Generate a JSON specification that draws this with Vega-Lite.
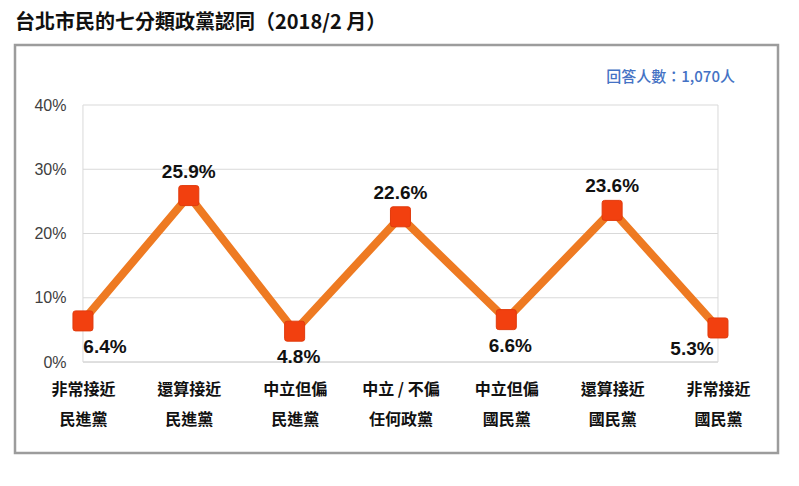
{
  "$schema": "https://vega.github.io/schema/vega-lite/v6.json",
  "width": 763,
  "height": 408,
  "autosize": {"type": "none"},
  "padding": {"left": 15, "top": 45, "right": 21, "bottom": 33},
  "background": "white",
  "title": {
    "text": "台北市民的七分類政黨認同（2018/2 月）",
    "anchor": "start",
    "frame": "group",
    "font": "Noto Sans CJK TC",
    "fontSize": 20,
    "fontWeight": "bold",
    "color": "#111111",
    "offset": 12
  },
  "config": {
    "view": {"stroke": "#9c9c9c", "strokeWidth": 2.5}
  },
  "datasets": {
    "main": [
      {"cat": "非常接近|民進黨", "pct": 0.064},
      {"cat": "還算接近|民進黨", "pct": 0.259},
      {"cat": "中立但偏|民進黨", "pct": 0.048},
      {"cat": "中立 / 不偏|任何政黨", "pct": 0.226},
      {"cat": "中立但偏|國民黨", "pct": 0.066},
      {"cat": "還算接近|國民黨", "pct": 0.236},
      {"cat": "非常接近|國民黨", "pct": 0.053}
    ],
    "grid": [{"v": 0}, {"v": 0.1}, {"v": 0.2}, {"v": 0.3}, {"v": 0.4}],
    "note": [{"t": "回答人數：1,070人"}]
  },
  "layer": [
    {
      "data": {"name": "grid"},
      "mark": {"type": "rule", "strokeWidth": 1},
      "encoding": {
        "x": {"datum": "非常接近|民進黨", "type": "ordinal", "scale": {"type": "point", "domain": ["非常接近|民進黨", "還算接近|民進黨", "中立但偏|民進黨", "中立 / 不偏|任何政黨", "中立但偏|國民黨", "還算接近|國民黨", "非常接近|國民黨"], "padding": 0.6047, "align": 0.531}},
        "x2": {"datum": "非常接近|國民黨"},
        "y": {"field": "v", "type": "quantitative", "scale": {"domain": [-0.1416, 0.4934], "nice": false, "zero": false}},
        "color": {"condition": {"test": "datum.v === 0", "value": "#bfbfbf"}, "value": "#d9d9d9"}
      }
    },
    {
      "data": {"name": "main"},
      "transform": [{"filter": "datum.cat === '非常接近|民進黨' || datum.cat === '非常接近|國民黨'"}],
      "mark": {"type": "rule", "strokeWidth": 1, "color": "#d9d9d9"},
      "encoding": {
        "x": {"field": "cat", "type": "ordinal", "scale": {"type": "point", "domain": ["非常接近|民進黨", "還算接近|民進黨", "中立但偏|民進黨", "中立 / 不偏|任何政黨", "中立但偏|國民黨", "還算接近|國民黨", "非常接近|國民黨"], "padding": 0.6047, "align": 0.531}},
        "y": {"datum": 0, "type": "quantitative", "scale": {"domain": [-0.1416, 0.4934], "nice": false, "zero": false}},
        "y2": {"datum": 0.4}
      }
    },
    {
      "data": {"name": "main"},
      "mark": {"type": "line", "color": "#EE7A22", "strokeWidth": 8, "strokeJoin": "miter"},
      "encoding": {
        "x": {
          "field": "cat", "type": "ordinal", "sort": null,
          "scale": {"type": "point", "domain": ["非常接近|民進黨", "還算接近|民進黨", "中立但偏|民進黨", "中立 / 不偏|任何政黨", "中立但偏|國民黨", "還算接近|國民黨", "非常接近|國民黨"], "padding": 0.6047, "align": 0.531},
          "axis": {
            "title": null, "orient": "bottom", "offset": -91, "domain": false, "ticks": false, "grid": false,
            "labelAngle": 0, "labelAlign": "center", "labelExpr": "split(datum.label, '|')", "labelLineHeight": 30,
            "labelFont": "Noto Sans CJK TC", "labelFontSize": 16, "labelFontWeight": "bold", "labelColor": "#111111",
            "labelPadding": 19, "labelBaseline": "top"
          }
        },
        "y": {
          "field": "pct", "type": "quantitative",
          "scale": {"domain": [-0.1416, 0.4934], "nice": false, "zero": false},
          "axis": {
            "title": null, "orient": "left", "offset": -68, "domain": false, "ticks": false, "grid": false,
            "values": [0, 0.1, 0.2, 0.3, 0.4], "format": ".0%",
            "labelFont": "Liberation Sans", "labelFontSize": 16, "labelColor": "#404040", "labelPadding": 17
          }
        }
      }
    },
    {
      "data": {"name": "main"},
      "mark": {"type": "point", "filled": true, "opacity": 1, "size": 400, "color": "#F2400F", "stroke": "#E03A0C", "strokeWidth": 1,
        "shape": "M -0.75,-1 L 0.75,-1 Q 1,-1 1,-0.75 L 1,0.75 Q 1,1 0.75,1 L -0.75,1 Q -1,1 -1,0.75 L -1,-0.75 Q -1,-1 -0.75,-1 Z"},
      "encoding": {
        "x": {"field": "cat", "type": "ordinal", "scale": {"type": "point", "domain": ["非常接近|民進黨", "還算接近|民進黨", "中立但偏|民進黨", "中立 / 不偏|任何政黨", "中立但偏|國民黨", "還算接近|國民黨", "非常接近|國民黨"], "padding": 0.6047, "align": 0.531}},
        "y": {"field": "pct", "type": "quantitative", "scale": {"domain": [-0.1416, 0.4934], "nice": false, "zero": false}}
      }
    },
    {
      "data": {"name": "main"},
      "transform": [{"filter": "datum.pct > 0.1"}],
      "mark": {"type": "text", "font": "Liberation Sans", "fontSize": 19, "fontWeight": "bold", "color": "#111111", "dy": -24, "baseline": "middle"},
      "encoding": {
        "x": {"field": "cat", "type": "ordinal", "scale": {"type": "point", "domain": ["非常接近|民進黨", "還算接近|民進黨", "中立但偏|民進黨", "中立 / 不偏|任何政黨", "中立但偏|國民黨", "還算接近|國民黨", "非常接近|國民黨"], "padding": 0.6047, "align": 0.531}},
        "y": {"field": "pct", "type": "quantitative", "scale": {"domain": [-0.1416, 0.4934], "nice": false, "zero": false}},
        "text": {"field": "pct", "type": "quantitative", "format": ".1%"}
      }
    },
    {
      "data": {"name": "main"},
      "transform": [{"filter": "datum.cat === '中立但偏|民進黨' || datum.cat === '中立但偏|國民黨'"}],
      "mark": {"type": "text", "font": "Liberation Sans", "fontSize": 19, "fontWeight": "bold", "color": "#111111", "dy": 26, "dx": 4, "baseline": "middle"},
      "encoding": {
        "x": {"field": "cat", "type": "ordinal", "scale": {"type": "point", "domain": ["非常接近|民進黨", "還算接近|民進黨", "中立但偏|民進黨", "中立 / 不偏|任何政黨", "中立但偏|國民黨", "還算接近|國民黨", "非常接近|國民黨"], "padding": 0.6047, "align": 0.531}},
        "y": {"field": "pct", "type": "quantitative", "scale": {"domain": [-0.1416, 0.4934], "nice": false, "zero": false}},
        "text": {"field": "pct", "type": "quantitative", "format": ".1%"}
      }
    },
    {
      "data": {"name": "main"},
      "transform": [{"filter": "datum.cat === '非常接近|民進黨'"}],
      "mark": {"type": "text", "font": "Liberation Sans", "fontSize": 19, "fontWeight": "bold", "color": "#111111", "dy": 26, "dx": 22, "baseline": "middle"},
      "encoding": {
        "x": {"field": "cat", "type": "ordinal", "scale": {"type": "point", "domain": ["非常接近|民進黨", "還算接近|民進黨", "中立但偏|民進黨", "中立 / 不偏|任何政黨", "中立但偏|國民黨", "還算接近|國民黨", "非常接近|國民黨"], "padding": 0.6047, "align": 0.531}},
        "y": {"field": "pct", "type": "quantitative", "scale": {"domain": [-0.1416, 0.4934], "nice": false, "zero": false}},
        "text": {"field": "pct", "type": "quantitative", "format": ".1%"}
      }
    },
    {
      "data": {"name": "main"},
      "transform": [{"filter": "datum.cat === '非常接近|國民黨'"}],
      "mark": {"type": "text", "font": "Liberation Sans", "fontSize": 19, "fontWeight": "bold", "color": "#111111", "dy": 21, "dx": -26, "baseline": "middle"},
      "encoding": {
        "x": {"field": "cat", "type": "ordinal", "scale": {"type": "point", "domain": ["非常接近|民進黨", "還算接近|民進黨", "中立但偏|民進黨", "中立 / 不偏|任何政黨", "中立但偏|國民黨", "還算接近|國民黨", "非常接近|國民黨"], "padding": 0.6047, "align": 0.531}},
        "y": {"field": "pct", "type": "quantitative", "scale": {"domain": [-0.1416, 0.4934], "nice": false, "zero": false}},
        "text": {"field": "pct", "type": "quantitative", "format": ".1%"}
      }
    },
    {
      "data": {"name": "note"},
      "mark": {"type": "text", "font": "Noto Sans CJK TC", "fontSize": 15, "fontWeight": 500, "color": "#4472C4", "align": "right", "baseline": "middle", "dx": 17},
      "encoding": {
        "x": {"datum": "非常接近|國民黨", "type": "ordinal", "scale": {"type": "point", "domain": ["非常接近|民進黨", "還算接近|民進黨", "中立但偏|民進黨", "中立 / 不偏|任何政黨", "中立但偏|國民黨", "還算接近|國民黨", "非常接近|國民黨"], "padding": 0.6047, "align": 0.531}},
        "y": {"datum": 0.444, "type": "quantitative", "scale": {"domain": [-0.1416, 0.4934], "nice": false, "zero": false}},
        "text": {"field": "t"}
      }
    }
  ]
}
